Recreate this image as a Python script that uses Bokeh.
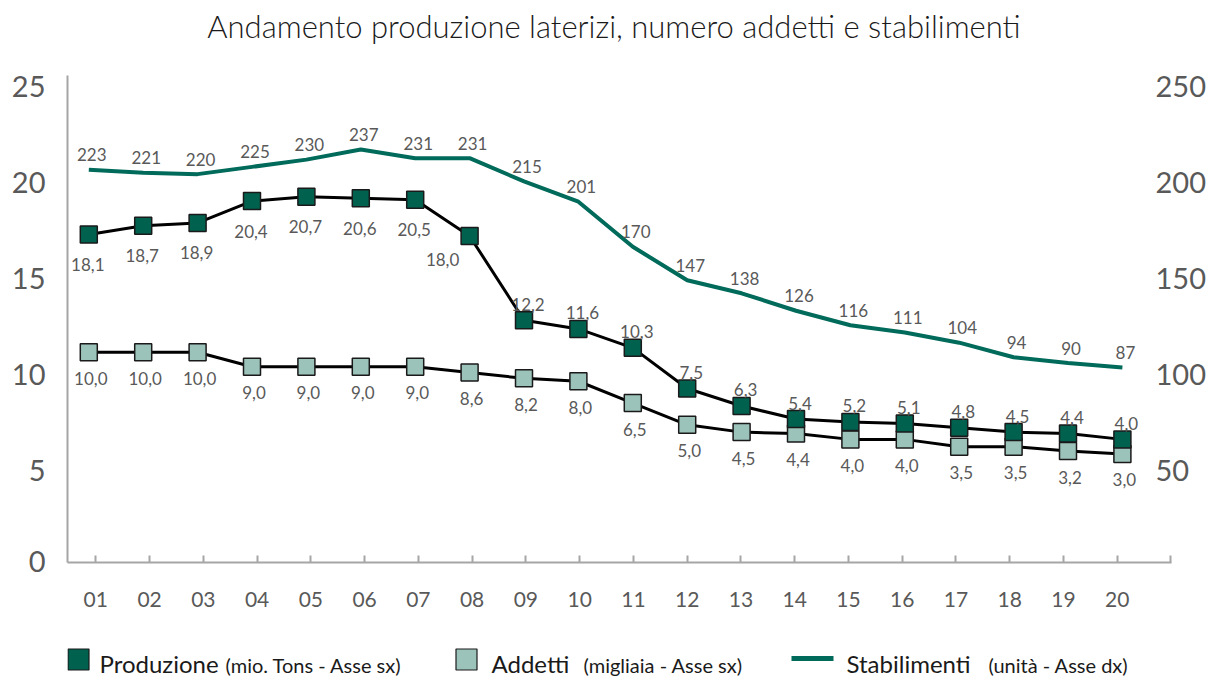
from bokeh.plotting import figure
from bokeh.models import Range1d, LinearAxis, FixedTicker, ColumnDataSource
from bokeh.layouts import column
from bokeh.embed import file_html
from bokeh.resources import INLINE
from bokeh.core.properties import value

# ---------------- data ----------------
years = ["01", "02", "03", "04", "05", "06", "07", "08", "09", "10",
         "11", "12", "13", "14", "15", "16", "17", "18", "19", "20"]
produzione = [18.1, 18.7, 18.9, 20.4, 20.7, 20.6, 20.5, 18.0, 12.2, 11.6,
              10.3, 7.5, 6.3, 5.4, 5.2, 5.1, 4.8, 4.5, 4.4, 4.0]
addetti = [10.0, 10.0, 10.0, 9.0, 9.0, 9.0, 9.0, 8.6, 8.2, 8.0,
           6.5, 5.0, 4.5, 4.4, 4.0, 4.0, 3.5, 3.5, 3.2, 3.0]
stabilimenti = [223, 221, 220, 225, 230, 237, 231, 231, 215, 201,
                170, 147, 138, 126, 116, 111, 104, 94, 90, 87]
left_tick_labels = [0, 5, 10, 15, 20, 25]
right_tick_labels = [50, 100, 150, 200, 250]
title_text = "Andamento produzione laterizi, numero addetti e stabilimenti"
legend_main = ["Produzione", "Addetti", "Stabilimenti"]
legend_sub = ["(mio. Tons - Asse sx)", "(migliaia - Asse sx)", "(unità - Asse dx)"]

# ---------------- layout / style ----------------
FONT_NAME = "Lato"
FONT = value(FONT_NAME)
W = 1210
H_TITLE, H_MAIN, H_LEG = 60, 570, 49          # stacked strips (page px)
FRAME_L, FRAME_R, FRAME_T, FRAME_B = 67, 1171, 75, 562   # page px
X0_PX, X_STEP = 88.3, 54.4            # pixel of first category, spacing
TICK0_PX, TICK_STEP = 95.3, 53.76     # x-axis tick marks / labels
L_ZERO_PX, L_PX = 497.0, 14.53        # left series scale (page px)
R_ZERO_PX, R_PX = 493.3, 1.453        # right series scale (page px)
TICK_ZERO_PX, TICK_PX = 566.2, 19.21  # where the printed axis labels sit

PROD_FILL = "#00614F"
ADD_FILL = "#9CC3BA"
STAB_COL = "#006A5B"
LABEL_COL = "#595959"
AXIS_COL = "#A6A6A6"


def px_to_x(px):
    return 1 + (px - X0_PX) / X_STEP


def strip(height, y_range):
    f = figure(width=W, height=height, x_range=Range1d(FRAME_L, FRAME_R),
               y_range=y_range, output_backend="svg", toolbar_location=None,
               title=None, min_border=0, min_border_left=FRAME_L,
               min_border_right=W - FRAME_R,
               x_axis_location=None, y_axis_location=None)
    f.outline_line_color = None
    f.grid.visible = False
    return f


# ---------------- title strip (x, y in page pixels; y measured upward) ----------------
top = strip(H_TITLE, Range1d(0, H_TITLE))
top.text([613.5], [H_TITLE - 25], text=[title_text], text_align="center",
         text_baseline="middle", text_font=value("Lato Light"),
         text_font_size="31px", text_color="#1a1a1a")

# ---------------- main chart ----------------
xr = Range1d(px_to_x(FRAME_L), px_to_x(FRAME_R))
yr = Range1d((L_ZERO_PX - FRAME_B) / L_PX, (L_ZERO_PX - FRAME_T) / L_PX)
yr_stab = Range1d((R_ZERO_PX - FRAME_B) / R_PX, (R_ZERO_PX - FRAME_T) / R_PX)

p = figure(width=W, height=H_MAIN, x_range=xr, y_range=yr,
           output_backend="svg", toolbar_location=None, title=None,
           min_border_left=FRAME_L, min_border_right=W - FRAME_R,
           min_border_top=FRAME_T - H_TITLE,
           min_border_bottom=H_TITLE + H_MAIN - FRAME_B,
           background_fill_color="white", border_fill_color="white")
p.outline_line_color = None
p.xgrid.visible = False
p.ygrid.visible = False
p.extra_y_ranges = {"stab": yr_stab}

xs = [i + 1 for i in range(len(years))]

# x axis: tick marks (and their labels) sit on their own grid
xt = [round(px_to_x(TICK0_PX + TICK_STEP * k), 5) for k in range(len(years) + 1)]
xax = p.xaxis[0]
xax.ticker = FixedTicker(ticks=xt)
xax.major_label_overrides = {t: (years[k] if k < len(years) else "") for k, t in enumerate(xt)}
xax.major_tick_in = 7
xax.major_tick_out = 0
xax.minor_tick_line_color = None
xax.major_tick_line_color = AXIS_COL
xax.major_tick_line_width = 2
xax.axis_line_color = AXIS_COL
xax.axis_line_width = 2
xax.major_label_standoff = 29
xax.major_label_text_font = FONT_NAME
xax.major_label_text_font_size = "21px"
xax.major_label_text_color = LABEL_COL


def tick_pos(lbl, zero_px, px, per):
    ypx = min(TICK_ZERO_PX - TICK_PX * lbl / per, FRAME_B - 0.5)
    return round((zero_px - ypx) / px, 5)


lt = [tick_pos(v, L_ZERO_PX, L_PX, 1) for v in left_tick_labels]
yax = p.yaxis[0]
yax.ticker = FixedTicker(ticks=lt)
yax.major_label_overrides = {t: str(v) for t, v in zip(lt, left_tick_labels)}
yax.major_tick_in = 0
yax.major_tick_out = 0
yax.minor_tick_line_color = None
yax.axis_line_color = AXIS_COL
yax.axis_line_width = 2
yax.major_label_standoff = 22
yax.major_label_text_font = FONT_NAME
yax.major_label_text_font_size = "29px"
yax.major_label_text_color = LABEL_COL

rt = [tick_pos(v, R_ZERO_PX, R_PX, 10) for v in right_tick_labels]
rax = LinearAxis(y_range_name="stab", ticker=FixedTicker(ticks=rt))
rax.major_label_overrides = {t: str(v) for t, v in zip(rt, right_tick_labels)}
rax.major_tick_in = 0
rax.major_tick_out = 0
rax.minor_tick_line_color = None
rax.axis_line_color = None
rax.major_label_standoff = -16
rax.major_label_text_font = FONT_NAME
rax.major_label_text_font_size = "29px"
rax.major_label_text_color = LABEL_COL
p.add_layout(rax, "right")


def fmt(v):
    return f"{v:.1f}".replace(".", ",")


src = ColumnDataSource(dict(
    x=xs, prod=produzione, add=addetti, stab=stabilimenti,
    prod_lbl=[fmt(v) for v in produzione],
    add_lbl=[fmt(v) for v in addetti],
    stab_lbl=[str(v) for v in stabilimenti],
    prod_dx=[-1] * 7 + [-27] + [4] * 12,
    prod_dy=[30] * 7 + [24] + [-16] * 12,
))

# stabilimenti (right axis)
p.line("x", "stab", source=src, y_range_name="stab", line_color=STAB_COL, line_width=4)
# addetti
p.line("x", "add", source=src, line_color="black", line_width=3)
p.scatter("x", "add", source=src, marker="square", size=17,
          fill_color=ADD_FILL, line_color="#1a1a1a", line_width=1.5)
# produzione
p.line("x", "prod", source=src, line_color="black", line_width=3)
p.scatter("x", "prod", source=src, marker="square", size=17,
          fill_color=PROD_FILL, line_color="#1a1a1a", line_width=1.5)

lbl_kw = dict(text_align="center", text_baseline="middle", text_font=FONT,
              text_font_size="17px", text_color=LABEL_COL)
p.text("x", "stab", text="stab_lbl", source=src, y_range_name="stab",
       x_offset=3, y_offset=-15, **lbl_kw)
p.text("x", "add", text="add_lbl", source=src, x_offset=2, y_offset=26, **lbl_kw)
p.text("x", "prod", text="prod_lbl", source=src, x_offset="prod_dx",
       y_offset="prod_dy", **lbl_kw)

# ---------------- legend strip (x in page pixels, y upward) ----------------
leg = strip(H_LEG, Range1d(0, H_LEG))
LEG_Y = 20
leg.scatter([78, 466], [LEG_Y, LEG_Y], marker="square", size=21,
            fill_color=[PROD_FILL, ADD_FILL], line_color="#1a1a1a", line_width=1.2)
leg.line([791, 833], [LEG_Y + 1, LEG_Y + 1], line_color=STAB_COL, line_width=5)
leg.text([99, 491, 846], [LEG_Y - 4] * 3, text=legend_main, text_font=FONT,
         text_font_size="24px", text_color="#1a1a1a", text_baseline="middle")
leg.text([225, 583, 988], [LEG_Y - 5] * 3, text=legend_sub, text_font=FONT,
         text_font_size="20px", text_color="#1a1a1a", text_baseline="middle")

layout = column(top, p, leg, spacing=0)
open("out.html", "w").write(file_html(layout, INLINE))
